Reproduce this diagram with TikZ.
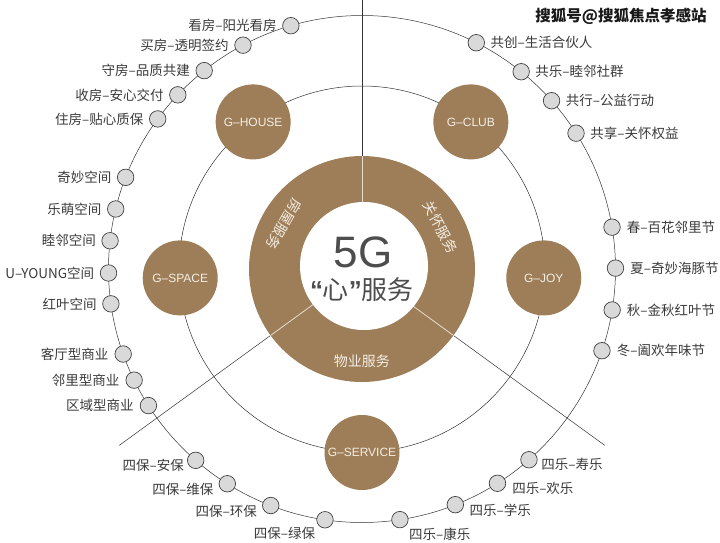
\documentclass[tikz,border=0pt]{standalone}
\usepackage{fontspec}
\setmainfont{Noto Sans CJK SC}
\newfontfamily\latinsf{Liberation Sans}
\usepackage{tikz}
\usetikzlibrary{positioning}
\definecolor{gbrown}{HTML}{9D7E58}
\definecolor{dotgray}{HTML}{D9D9D9}
\definecolor{txtgray}{HTML}{3A3A3A}
\definecolor{centergray}{HTML}{4D4D4D}
\definecolor{ringtxt}{HTML}{F4EDE3}

\begin{document}
\begin{tikzpicture}[x=1pt,y=1pt,
  orbit/.style={draw=black!80,line width=0.5pt},
  divider/.style={draw=ringtxt!85!gbrown,line width=0.8pt},
  gnode/.style={circle,fill=gbrown,minimum size=75pt,inner sep=0pt,
    font=\latinsf\fontsize{12}{12}\selectfont,text=ringtxt},
  item/.style={circle,draw=black!75,fill=dotgray,line width=0.7pt,
    minimum size=16.5pt,inner sep=0pt},
  lbl/.style={font=\fontsize{13.5}{13.5}\selectfont,text=txtgray,inner sep=0pt},
  ringlbl/.style={font=\fontsize{14}{14}\selectfont,text=ringtxt,inner sep=0pt},
]
  \useasboundingbox (-362,-273) rectangle (358,269);
  \coordinate (c) at (0,0);
  \coordinate (top) at (0,269);
  \coordinate (ll) at (216:300);
  \coordinate (lr) at (324:300);

  % orbits
  \draw[orbit] (c) circle (253.5);
  \draw[orbit] (c) circle (183);

  % centre ring
  \node[circle,fill=gbrown,minimum size=226pt,inner sep=0pt] (ring) at (c) {};
  \draw[orbit] (ring.90) -- (top);
  \draw[orbit] (ring.216) -- (ll);
  \draw[orbit] (ring.324) -- (lr);
  \foreach \a in {90,216,324} \draw[divider] (c) -- (ring.\a);
  \node[circle,fill=white,minimum size=128pt,inner sep=0pt] (core) at (2,3) {};
  \node[font=\latinsf\fontsize{44}{44}\selectfont,text=centergray] (fiveg) at (1,17) {5G};
  \node[font=\fontsize{26}{26}\selectfont,text=centergray] (heart) at (0,-21)
    {{\latinsf\bfseries “}心{\latinsf\bfseries ”}服务};
  \node[ringlbl,rotate=-120] (housesvc) at (150:90) {房屋服务};
  \node[ringlbl,rotate=-62] (caresvc) at (28:89) {关怀服务};
  \node[ringlbl] (propsvc) at (270:92) {物业服务};

  % G nodes
  \node[gnode] (ghouse) at (126.5:183) {G–HOUSE};
  \node[gnode] (gclub) at (53.5:183) {G–CLUB};
  \node[gnode] (gspace) at (182.8:182) {G–SPACE};
  \node[gnode] (gjoy) at (-2.8:182) {G–JOY};
  \node[gnode] (gservice) at (270:183.5) {G–SERVICE};

  % outer items
  \foreach \a/\t [count=\i] in {106.3/看房–阳光看房,118/买房–透明签约,128.5/守房–品质共建,
      136.6/收房–安心交付,143.7/住房–贴心质保}{
    \node[item] (house\i) at (\a:253.5) {};
    \node[lbl,left=5.5pt of house\i] (houselbl\i) {\t};
  }
  \foreach \a/\t [count=\i] in {158.8/奇妙空间,166.3/乐萌空间,173.6/睦邻空间,
      180.9/U–YOUNG空间,187.9/红叶空间}{
    \node[item] (space\i) at (\a:253.5) {};
    \node[lbl,left=5.5pt of space\i] (spacelbl\i) {\t};
  }
  \foreach \a/\t [count=\i] in {199.6/客厅型商业,206/邻里型商业,212.6/区域型商业}{
    \node[item] (shop\i) at (\a:253.5) {};
    \node[lbl,left=6pt of shop\i] (shoplbl\i) {\t};
  }
  \foreach \a/\t/\g/\dy [count=\i] in {229/四保–安保/3pt/-5pt,237.9/四保–维保/5pt/-6pt,
      248.9/四保–环保/5pt/-6pt,261.6/四保–绿保/1pt/-14pt}{
    \node[item] (bao\i) at (\a:253.5) {};
    \node[lbl,left=\g of bao\i,yshift=\dy] (baolbl\i) {\t};
  }
  \foreach \a/\t/\g/\dy [count=\i] in {311.2/四乐–寿乐/3.5pt/-5pt,302.3/四乐–欢乐/6pt/-5pt,
      291.6/四乐–学乐/5.5pt/-6pt,278.6/四乐–康乐/0.5pt/-15pt}{
    \node[item] (le\i) at (\a:253.5) {};
    \node[lbl,right=\g of le\i,yshift=\dy] (lelbl\i) {\t};
  }
  \foreach \a/\t [count=\i] in {9.5/春–百花邻里节,0.2/夏–奇妙海豚节,-9.3/秋–金秋红叶节,
      -18.8/冬–阖欢年味节}{
    \node[item] (joy\i) at (\a:253.5) {};
    \node[lbl,right=6pt of joy\i] (joylbl\i) {\t};
  }
  \foreach \a/\t [count=\i] in {63.2/共创–生活合伙人,51.1/共乐–睦邻社群,41.6/共行–公益行动,
      32.4/共享–关怀权益}{
    \node[item] (club\i) at (\a:253.5) {};
    \node[lbl,right=5.5pt of club\i] (clublbl\i) {\t};
  }

  \node[font=\bfseries\fontsize{15.5}{15.5}\selectfont,text=black!90] (mark) at (259,253)
    {搜狐号@搜狐焦点孝感站};
\end{tikzpicture}
\end{document}
